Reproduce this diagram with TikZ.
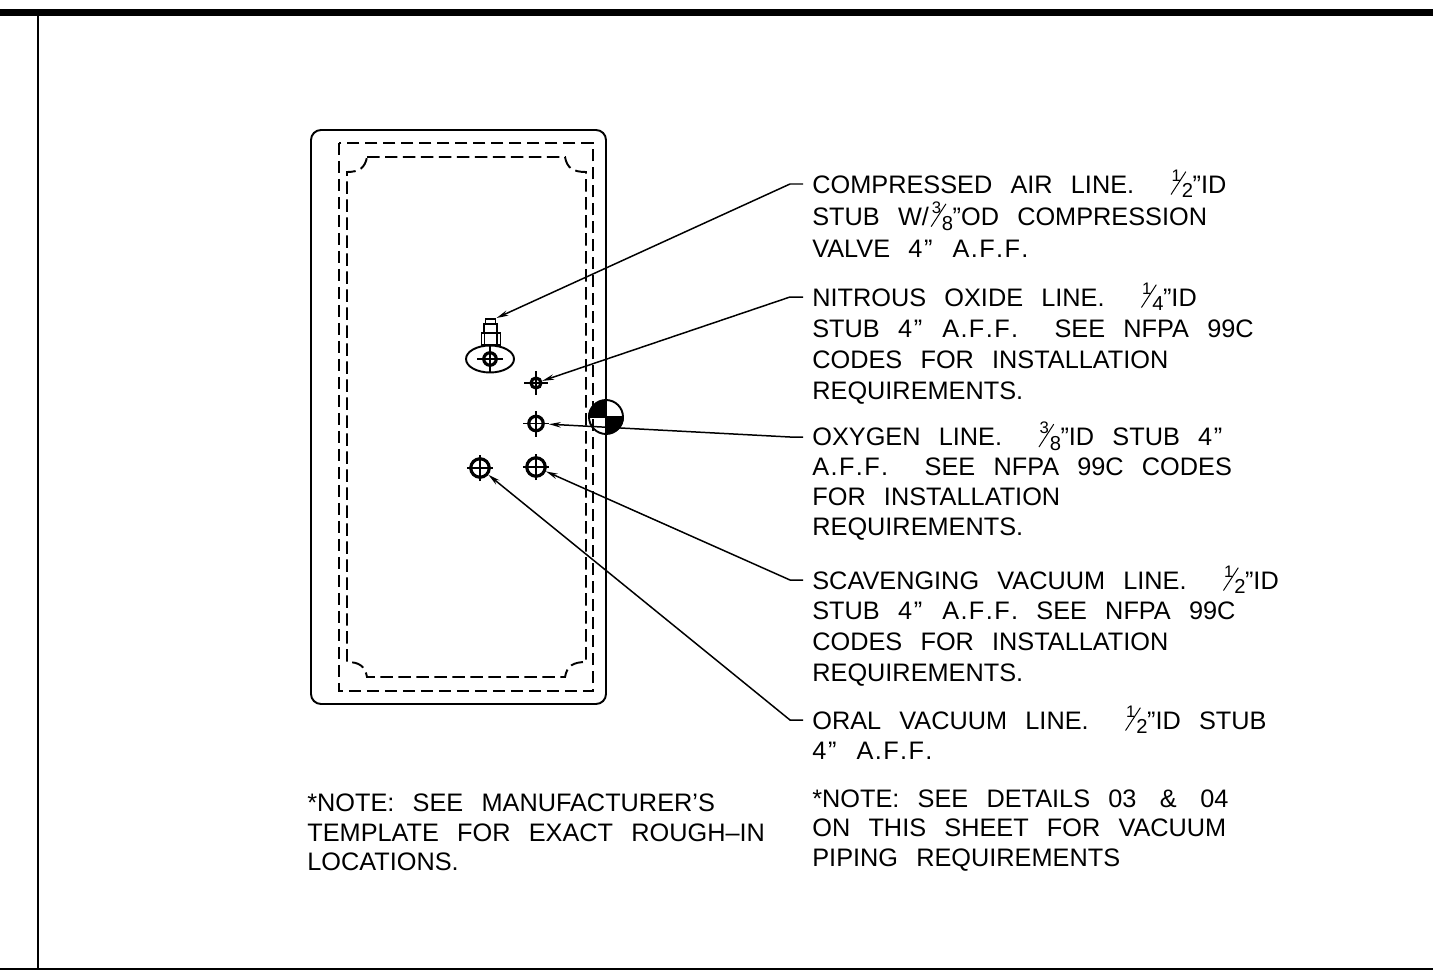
\documentclass[tikz,border=0pt]{standalone}
\usepackage{fontspec}
\setmainfont{Liberation Sans}
\usetikzlibrary{shapes.geometric,arrows.meta}
\newcommand{\fr}[2]{\smash{\rlap{\hspace{0.6pt}\raisebox{6.6pt}{\fontsize{9.5}{10}\selectfont #1}}\rlap{\raisebox{-1pt}{\rotatebox{57}{\rule{15.5pt}{0.55pt}}}}\rlap{\hspace{6.4pt}\raisebox{-2.8pt}{\fontsize{11.5}{12}\selectfont #2}}}\hspace{12.5pt}}
\newcommand{\gap}{\hspace{0.72em}}
\newcommand{\qm}{\kern1pt"\kern1pt}
\newcommand{\aff}{A\kern0.8pt.\kern0.8pt F\kern0.8pt.\kern0.8pt F\kern0.8pt.}
\tikzset{
	sheetline/.style={line width=1.1pt},
	dashline/.style={line width=1.1pt,dash pattern=on 0.25cm off 0.11cm},
	leader/.style={line width=0.85pt,-{Stealth[length=0.24cm,width=0.11cm]}},
	notetext/.style={anchor=north west,inner sep=0pt,align=left,font=\fontsize{14.4}{#1}\selectfont},
	notetext/.default=17.6,
	stubmark/.style={circle,draw,line width=1.8pt,inner sep=0pt,minimum size=#1},
	valvepart/.style n args={2}{rectangle,draw,line width=1.1pt,inner sep=0pt,minimum width=#1,minimum height=#2},
}
\begin{document}
\begin{tikzpicture}[x=0.02cm,y=-0.02cm]
\useasboundingbox(0,0)rectangle(1433,970);
% sheet border
\fill(0,9)rectangle(1433,16);
\draw[sheetline](38,16)--(38,969);
\draw[sheetline](0,969)--(1433,969);
% cabinet outline
\draw[sheetline,rounded corners=0.2cm](311,130)rectangle(606,704);
\draw[dashline](339,143)rectangle(593,691);
\draw[dashline](367,157)--(565,157)
	.. controls (567,168) and (573,172) .. (586,172)--(586,662)
	.. controls (573,662) and (567,666) .. (565,677)--(367,677)
	.. controls (365,666) and (359,662) .. (347,662)--(347,172)
	.. controls (359,172) and (365,168) .. (367,157);
% target mark
\node[circle,draw,line width=1.1pt,minimum size=0.68cm,inner sep=0pt](target)at(606,417){};
\fill(target.center)--(target.west) arc(180:90:0.34cm)--cycle;
\fill(target.center)--(target.east) arc(0:-90:0.34cm)--cycle;
\draw[line width=0.8pt](target.west)--(target.east);
\draw[line width=0.8pt](target.north)--(target.south);
% valve
\node[valvepart={0.38cm}{0.24cm}](valvenut)at(491,339){};
\draw[sheetline](484.5,333)--(484.5,345);
\draw[sheetline](497,333)--(497,345);
\node[valvepart={0.25cm}{0.18cm}](valveneck)at(490.5,328.5){};
\node[valvepart={0.2cm}{0.1cm}](valvetop)at(490.5,321.5){};
\node[ellipse,draw,line width=1.1pt,minimum width=0.96cm,minimum height=0.54cm,inner sep=0pt](valve)at(490,359){};
% stubs
\node[stubmark=0.25cm](airstub)at(490,359){};
\node[stubmark=0.2cm](nitrous)at(536,383){};
\node[stubmark=0.29cm](oxygen)at(536,423.5){};
\node[stubmark=0.37cm](scavenge)at(536,467){};
\node[stubmark=0.37cm](oral)at(480,468){};
\foreach \name/\len in {airstub/13,nitrous/12,oxygen/13,scavenge/13,oral/13}{
	\draw[line width=0.9pt]([xshift=-\len*0.02cm]\name.center)--([xshift=\len*0.02cm]\name.center);
	\draw[line width=0.9pt]([yshift=-\len*0.02cm]\name.center)--([yshift=\len*0.02cm]\name.center);
}
% notes
\node[notetext=18.3](airnote)at(812,175){COMPRESSED\gap AIR\gap LINE.\gap\gap \fr12"ID\\STUB\gap W/\kern1pt\fr38"OD\gap COMPRESSION\\VALVE\gap 4\qm\gap\aff};
\node[notetext=17.8](nitrousnote)at(812,288){NITROUS\gap OXIDE\gap LINE.\gap\gap \fr14"ID\\STUB\gap 4\qm\gap\aff\gap\gap SEE\gap NFPA\gap 99C\\CODES\gap FOR\gap INSTALLATION\\REQUIREMENTS.};
\node[notetext=17](oxygennote)at(812,427.5){OXYGEN\gap LINE.\gap\gap \fr38"ID\gap STUB\gap 4\qm\\\aff\gap\gap SEE\gap NFPA\gap 99C\gap CODES\\FOR\gap INSTALLATION\\REQUIREMENTS.};
\node[notetext](scavengenote)at(812,571){SCAVENGING\gap VACUUM\gap LINE.\gap\gap \fr12"ID\\STUB\gap 4\qm\gap\aff\gap SEE\gap NFPA\gap 99C\\CODES\gap FOR\gap INSTALLATION\\REQUIREMENTS.};
\node[notetext](oralnote)at(812,711){ORAL\gap VACUUM\gap LINE.\gap\gap \fr12"ID\gap STUB\\4\qm\gap\aff};
\node[notetext=17](pipingnote)at(812,789){*NOTE:\gap SEE\gap DETAILS\gap 03\gap\kern3pt\&\kern3pt\gap 04\\ON\gap THIS\gap SHEET\gap FOR\gap VACUUM\\PIPING\gap REQUIREMENTS};
\node[notetext=16.8](templatenote)at(307,793.5){*NOTE:\gap SEE\gap MANUFACTURER'S\\TEMPLATE\gap FOR\gap EXACT\gap ROUGH--IN\\LOCATIONS.};
% leaders
\coordinate(airknee)at(790,184);
\coordinate(nitrousknee)at(790,297);
\coordinate(oxygenknee)at(790,437);
\coordinate(scavengeknee)at(790,580);
\coordinate(oralknee)at(790,720);
\draw[leader]([xshift=-0.18cm]airnote.west|-airknee)--(airknee)--(valvetop.north east);
\draw[leader]([xshift=-0.18cm]nitrousnote.west|-nitrousknee)--(nitrousknee)--(nitrous);
\draw[leader,shorten >=0.08cm]([xshift=-0.18cm]oxygennote.west|-oxygenknee)--(oxygenknee)--(oxygen);
\draw[leader]([xshift=-0.18cm]scavengenote.west|-scavengeknee)--(scavengeknee)--(scavenge);
\draw[leader]([xshift=-0.18cm]oralnote.west|-oralknee)--(oralknee)--(oral);
\end{tikzpicture}
\end{document}
